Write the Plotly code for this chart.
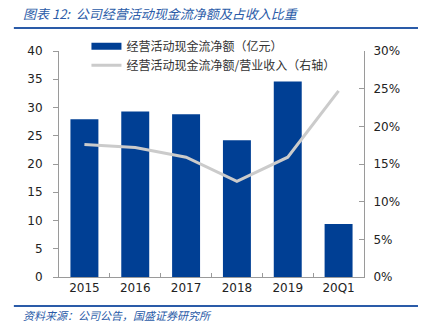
import plotly.graph_objects as go

# Operating cash flow (100M CNY) and its ratio to revenue
categories = ["2015", "2016", "2017", "2018", "2019", "20Q1"]
cash_flow = [27.9, 29.3, 28.8, 24.2, 34.6, 9.4]
cash_ratio = [0.176, 0.172, 0.159, 0.127, 0.159, 0.247]
left_ticks = [0, 5, 10, 15, 20, 25, 30, 35, 40]
right_ticks = [0, 0.05, 0.10, 0.15, 0.20, 0.25, 0.30]
right_labels = ["0%", "5%", "10%", "15%", "20%", "25%", "30%"]

BAR_BLUE = "#003F94"
LINE_GREY = "#CBCBCB"
AXIS_GREY = "#9A9A9A"
HEAD_BLUE = "#2A5BA8"
CJK = "Noto Sans CJK SC"
NUM = "DejaVu Sans"

fig = go.Figure()

fig.add_trace(go.Bar(
    x=categories, y=cash_flow, name="经营活动现金流净额（亿元）",
    marker=dict(color=BAR_BLUE, line=dict(width=0)),
    showlegend=False, yaxis="y",
))
# wide legend swatch for the bar series
fig.add_trace(go.Scatter(
    x=[None], y=[None], mode="lines", name="经营活动现金流净额（亿元）",
    line=dict(color=BAR_BLUE, width=7), yaxis="y",
))
fig.add_trace(go.Scatter(
    x=categories, y=cash_ratio, mode="lines", name="经营活动现金流净额/营业收入（右轴）",
    line=dict(color=LINE_GREY, width=3), yaxis="y2",
))

fig.update_layout(
    width=432, height=335,
    margin=dict(l=59, r=68, t=51, b=58),
    paper_bgcolor="white", plot_bgcolor="white",
    bargap=0.45,
    showlegend=True,
    legend=dict(
        x=0.09, y=1.085, xanchor="left", yanchor="top",
        bgcolor="rgba(0,0,0,0)", borderwidth=0,
        font=dict(family=CJK, size=12, color="#333333"),
        tracegroupgap=0, itemwidth=30,
    ),
    xaxis=dict(
        type="category", showgrid=False, showline=True, linecolor=AXIS_GREY,
        linewidth=1, ticks="inside", ticklen=4, tickcolor=AXIS_GREY,
        tickson="boundaries",
        tickfont=dict(family=NUM, size=12, color="#222222"),
        zeroline=False,
    ),
    yaxis=dict(
        range=[0, 40], tickvals=left_ticks, showgrid=False, showline=True,
        linecolor=AXIS_GREY, linewidth=1, ticks="outside", ticklen=5,
        tickcolor=AXIS_GREY, zeroline=False, ticklabelstandoff=8,
        tickfont=dict(family=NUM, size=12, color="#222222"),
    ),
    yaxis2=dict(
        range=[0, 0.30], tickvals=right_ticks, ticktext=right_labels,
        overlaying="y", side="right", showgrid=False, showline=True,
        linecolor=AXIS_GREY, linewidth=1, ticks="inside", ticklen=5,
        tickcolor=AXIS_GREY, zeroline=False, ticklabelstandoff=6,
        tickfont=dict(family=NUM, size=12, color="#222222"),
    ),
)

# header and source rules
fig.add_shape(type="line", xref="paper", yref="paper",
              x0=-0.148, x1=1.177, y0=1.102, y1=1.102,
              line=dict(color=HEAD_BLUE, width=2))
fig.add_shape(type="line", xref="paper", yref="paper",
              x0=-0.148, x1=1.177, y0=-0.128, y1=-0.128,
              line=dict(color=HEAD_BLUE, width=2))

fig.add_annotation(
    text="<i>图表 12:  公司经营活动现金流净额及占收入比重</i>",
    xref="paper", yref="paper", x=-0.125, y=1.164, xanchor="left", yanchor="middle",
    showarrow=False, font=dict(family=CJK, size=13, color=HEAD_BLUE),
)
fig.add_annotation(
    text="<i>资料来源：公司公告，国盛证券研究所</i>",
    xref="paper", yref="paper", x=-0.125, y=-0.17, xanchor="left", yanchor="middle",
    showarrow=False, font=dict(family=CJK, size=11, color=HEAD_BLUE),
)

fig.write_html("out.html")
